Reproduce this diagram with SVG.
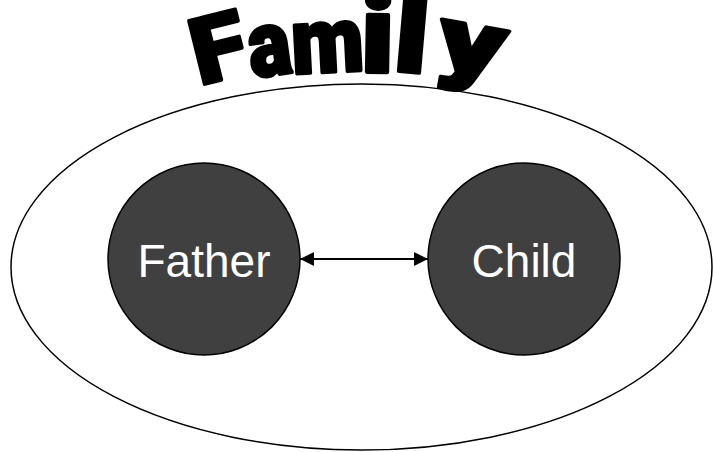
<svg xmlns="http://www.w3.org/2000/svg" width="713" height="452" viewBox="0 0 713 452">
<style>
.outer{fill:#fff;stroke:#000;stroke-width:1.5}
.node{fill:#404040;stroke:#000;stroke-width:1.5}
.label{fill:#fff;font-family:"Liberation Sans",Arial,sans-serif;font-size:46px;text-anchor:middle}
.title{fill:#000;stroke:#000;stroke-width:3;stroke-linejoin:round;font-family:Roboto,Lato,"DejaVu Sans",sans-serif;font-weight:900;font-size:80px;text-anchor:middle}
.conn{stroke:#000;stroke-width:2;fill:none}
</style>
<defs>
<marker id="ah" viewBox="0 0 14 14" refX="14" refY="7" markerWidth="14" markerHeight="14" markerUnits="userSpaceOnUse" orient="auto-start-reverse">
<path d="M0,0 L14,7 L0,14 Z" fill="#000"/>
</marker>
</defs>
<rect width="713" height="452" fill="#fff"/>
<g id="family">
<ellipse class="outer" cx="361.5" cy="267" rx="350.5" ry="183"/>
</g>
<g id="title">
<text class="title" transform="translate(226,79) rotate(-14) scale(1.25,1.15)">F</text>
<text class="title" transform="translate(273,75) rotate(-8) scale(1.0,1.15)">a</text>
<text class="title" transform="translate(329,72) rotate(-3) scale(1.05,1.15)">m</text>
<text class="title" transform="translate(377,72) rotate(1) scale(1.5,1.35)">i</text>
<text class="title" transform="translate(409,72) rotate(5) scale(1.5,1.35)">l</text>
<text class="title" transform="translate(467,73) rotate(10) scale(1.62,1.15)">y</text>
</g>
<g id="father">
<circle class="node" cx="204" cy="259" r="96"/>
<text class="label" x="204" y="277">Father</text>
</g>
<g id="child">
<circle class="node" cx="524" cy="259" r="96"/>
<text class="label" x="524" y="277">Child</text>
</g>
<g id="connectors">
<line class="conn" x1="300" y1="259" x2="428" y2="259" marker-start="url(#ah)" marker-end="url(#ah)"/>
</g>
</svg>
